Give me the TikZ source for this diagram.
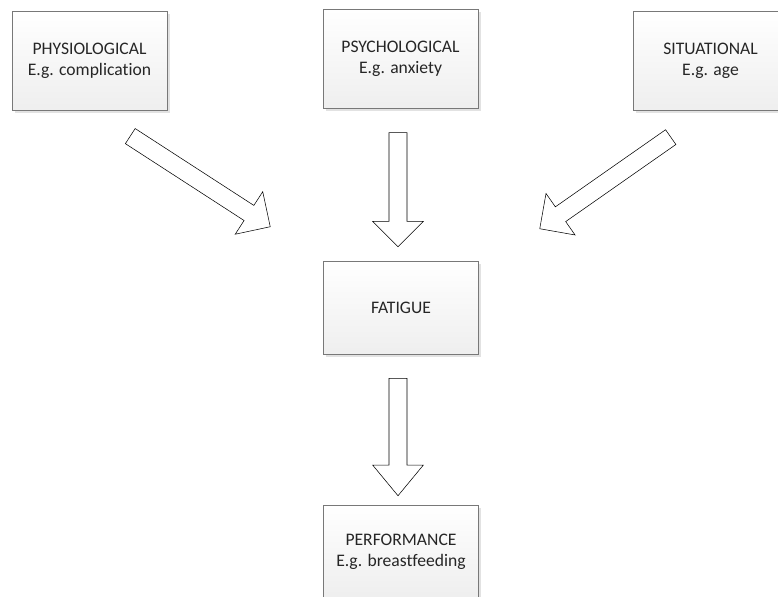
\documentclass[tikz,border=0pt]{standalone}
\usepackage{fontspec}
\setmainfont{Carlito}[Ligatures={NoCommon}]
\usetikzlibrary{calc,shadows}

\definecolor{textdark}{RGB}{38,38,38}
\definecolor{boxgray}{RGB}{120,120,120}
\definecolor{arrowfill}{RGB}{246,247,248}

\newcommand{\fatshaft}{6.75pt}
\newcommand{\fathead}{19pt}
\newcommand{\fatlen}{19pt}

\tikzset{
	factor/.style={draw=boxgray, top color=white, bottom color=gray!13,
		minimum width=116.25pt, minimum height=74pt, align=center,
		text=textdark, font=\fontsize{13.2pt}{16pt}\selectfont,
		drop shadow={shadow xshift=2pt, shadow yshift=-2pt, fill=gray!45, opacity=.5}},
	headlen/.code={\renewcommand{\fatlen}{#1}},
	fatarrow/.style={draw=boxgray, fill=arrowfill,
		drop shadow={shadow xshift=2pt, shadow yshift=-2pt, fill=gray!45, opacity=.5},
		to path={($(\tikztostart)!\fatshaft!90:(\tikztotarget)$)
			-- ($(\tikztotarget)!\fatlen!(\tikztostart)!\fatshaft!90:(\tikztotarget)$)
			-- ($(\tikztotarget)!\fatlen!(\tikztostart)!\fathead!90:(\tikztotarget)$)
			-- (\tikztotarget)
			-- ($(\tikztotarget)!\fatlen!(\tikztostart)!\fathead!-90:(\tikztotarget)$)
			-- ($(\tikztotarget)!\fatlen!(\tikztostart)!\fatshaft!-90:(\tikztotarget)$)
			-- ($(\tikztostart)!\fatshaft!-90:(\tikztotarget)$) -- cycle}}
}

\begin{document}
\begin{tikzpicture}[x=0.75pt, y=-0.75pt]
	\useasboundingbox (0,0) rectangle (778,596);

	% causes
	\node[factor] (phys) at (89.5,60.5) {PHYSIOLOGICAL\\E.g. complication};
	\node[factor] (psych) at (400.5,59) {PSYCHOLOGICAL\\E.g. anxiety};
	\node[factor] (situ) at (710.5,60.5) {SITUATIONAL\\E.g. age};

	% fatigue and outcome
	\node[factor, minimum height=69.75pt] (fatigue) at (401,307.5) {FATIGUE};
	\node[factor, minimum height=69.75pt] (perf) at (401,551.5) {PERFORMANCE\\E.g. breastfeeding};

	% arrow ends
	\coordinate (t1) at ($(phys.south east)+(-37,26)$);
	\coordinate (h1) at ($(fatigue.north west)+(-53,-34)$);
	\coordinate (t2) at ($(psych.south)+(-2.5,24)$);
	\coordinate (h2) at ($(fatigue.north)+(-3,-14)$);
	\coordinate (t3) at ($(situ.south west)+(38,27)$);
	\coordinate (h3) at ($(fatigue.north east)+(61,-32)$);
	\coordinate (t4) at ($(fatigue.south)+(-3,24)$);
	\coordinate (h4) at ($(perf.north)+(-3,-9)$);

	% arrows
	\draw (t1) to[fatarrow] (h1);
	\draw (t2) to[fatarrow] (h2);
	\draw (t3) to[fatarrow] (h3);
	\draw (t4) to[fatarrow, headlen=23pt] (h4);
\end{tikzpicture}
\end{document}
